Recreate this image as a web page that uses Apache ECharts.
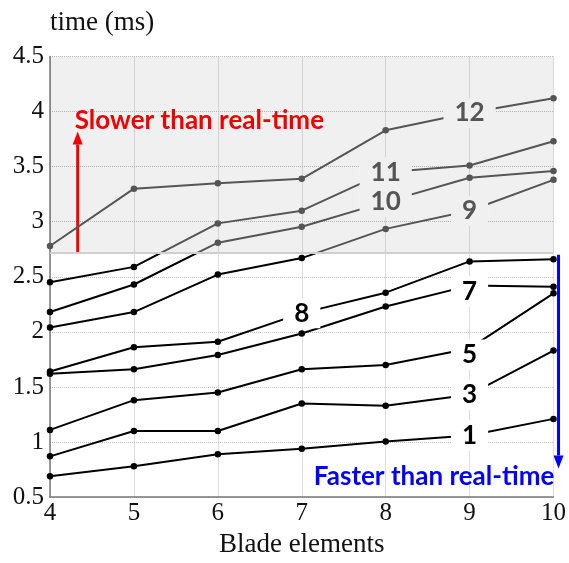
<!DOCTYPE html>
<html>
<head>
<meta charset="utf-8">
<script src="https://cdn.jsdelivr.net/npm/echarts@6/dist/echarts.min.js"></script>
<style>
html,body{margin:0;padding:0;background:#fff}
#main{width:569px;height:563px}
</style>
</head>
<body>
<div id="main"></div>
<script>
// blade elements on x, time in ms on y
var blades = [4, 5, 6, 7, 8, 9, 10];
var t1  = [0.69, 0.78, 0.89, 0.94, 1.005, 1.06, 1.21];
var t3  = [0.87, 1.10, 1.10, 1.35, 1.33, 1.43, 1.83];
var t5  = [1.11, 1.38, 1.45, 1.66, 1.70, 1.85, 2.35];
var t7  = [1.62, 1.66, 1.79, 1.985, 2.23, 2.42, 2.41];
var t8  = [1.64, 1.86, 1.91, 2.17, 2.356, 2.64, 2.66];
var t9  = [2.04, 2.18, 2.52, 2.67, 2.935, 3.10, 3.38];
var t10 = [2.18, 2.43, 2.81, 2.955, 3.18, 3.40, 3.46];
var t11 = [2.45, 2.59, 2.985, 3.10, 3.45, 3.51, 3.73];
var t12 = [2.78, 3.30, 3.35, 3.39, 3.83, 3.99, 4.12];
var lineNames = ['1', '3', '5', '7', '8', '9', '10', '11', '12'];
var lineValues = [t1, t3, t5, t7, t8, t9, t10, t11, t12];
// which point of each line carries its number
var labelAt = [5, 5, 5, 5, 3, 5, 4, 4, 5];
var realTime = 2.72; // above = slower than real-time

var GRAY = '#555';
var serif = 'Liberation Serif';

var chart = echarts.init(document.getElementById('main'));

var series = lineValues.map(function (vals, i) {
  var slow = vals[labelAt[i]] > realTime;
  var data = vals.map(function (v, j) {
    if (j !== labelAt[i]) return [blades[j], v];
    return {
      value: [blades[j], v],
      symbolSize: 0,
      label: {
        show: true,
        position: 'inside',
        formatter: lineNames[i],
        fontFamily: 'Lato',
        fontWeight: 'bold',
        fontSize: 26,
        color: slow ? GRAY : '#000',
        backgroundColor: slow ? '#f0f0f0' : '#fff',
        padding: [2, 11],
        offset: [0, (lineNames[i] === '7' || lineNames[i] === '5') ? 6 : 0]
      }
    };
  });
  var s = {
    name: lineNames[i],
    type: 'line',
    data: data,
    symbol: 'circle',
    symbolSize: 6.5,
    lineStyle: {width: 2},
    animation: false
  };
  if (i === 0) {
    s.markArea = {
      silent: true,
      itemStyle: {color: 'rgba(0,0,0,0.06)'},
      data: [[{yAxis: realTime}, {yAxis: 4.5}]]
    };
    s.markLine = {
      silent: true,
      symbol: 'none',
      label: {show: false},
      lineStyle: {color: '#cfcfcf', width: 2, type: 'solid'},
      data: [{yAxis: realTime}]
    };
  }
  return s;
});

chart.setOption({
  animation: false,
  grid: {left: 50, right: 11, top: 56.5, bottom: 57},
  visualMap: {
    show: false,
    type: 'piecewise',
    dimension: 1,
    pieces: [{gt: realTime, lte: 10, color: GRAY}, {gte: -10, lte: realTime, color: '#000'}]
  },
  xAxis: {
    type: 'value', min: 4, max: 10, interval: 1,
    name: 'Blade elements', nameLocation: 'middle', nameGap: 42,
    nameTextStyle: {fontFamily: serif, fontSize: 27, color: '#111', verticalAlign: 'middle'},
    axisLine: {onZero: false, lineStyle: {color: '#777', width: 1.5}},
    axisTick: {show: false},
    axisLabel: {fontFamily: serif, fontSize: 25, color: '#111', margin: 4},
    splitLine: {show: true, lineStyle: {type: 'dotted', color: '#c0c0c0'}}
  },
  yAxis: {
    type: 'value', min: 0.5, max: 4.5, interval: 0.5,
    name: 'time (ms)', nameLocation: 'end', nameGap: 34,
    nameTextStyle: {fontFamily: serif, fontSize: 27, color: '#111', align: 'left', verticalAlign: 'middle'},
    axisLine: {show: true, onZero: false, lineStyle: {color: '#777', width: 1.5}},
    axisTick: {show: false},
    axisLabel: {fontFamily: serif, fontSize: 25, color: '#111', margin: 6},
    splitLine: {show: true, lineStyle: {type: 'dotted', color: '#c0c0c0'}}
  },
  series: series
});

// annotations
function px(p) { return chart.convertToPixel({gridIndex: 0}, p); }
function arrow(from, to, color) {
  var a = px(from), b = px(to);
  var dir = b[1] < a[1] ? -1 : 1;
  var hl = 13, hw = 5;
  return [
    {type: 'line', silent: true, shape: {x1: a[0], y1: a[1], x2: b[0], y2: b[1] - dir * hl},
      style: {stroke: color, lineWidth: 3}},
    {type: 'polygon', silent: true,
      shape: {points: [[b[0], b[1]], [b[0] - hw, b[1] - dir * hl], [b[0] + hw, b[1] - dir * hl]]},
      style: {fill: color}}
  ];
}
var slowP = px([4.295, 3.92]);
var fastP = px([10.01, 0.687]);
chart.setOption({
  graphic: arrow([4.33, realTime], [4.33, 3.82], '#ff0000')
    .concat(arrow([10.06, realTime - 0.02], [10.06, 0.76], '#0000ff'))
    .concat([
      {type: 'text', silent: true, x: slowP[0], y: slowP[1],
        style: {text: 'Slower than real-time', fill: '#ff0000', fontFamily: 'Lato', fontWeight: 'bold', fontSize: 26, align: 'left', verticalAlign: 'middle'}},
      {type: 'text', silent: true, x: fastP[0], y: fastP[1],
        style: {text: 'Faster than real-time', fill: '#0000ff', fontFamily: 'Lato', fontWeight: 'bold', fontSize: 26, align: 'right', verticalAlign: 'middle'}}
    ])
});
</script>
</body>
</html>
